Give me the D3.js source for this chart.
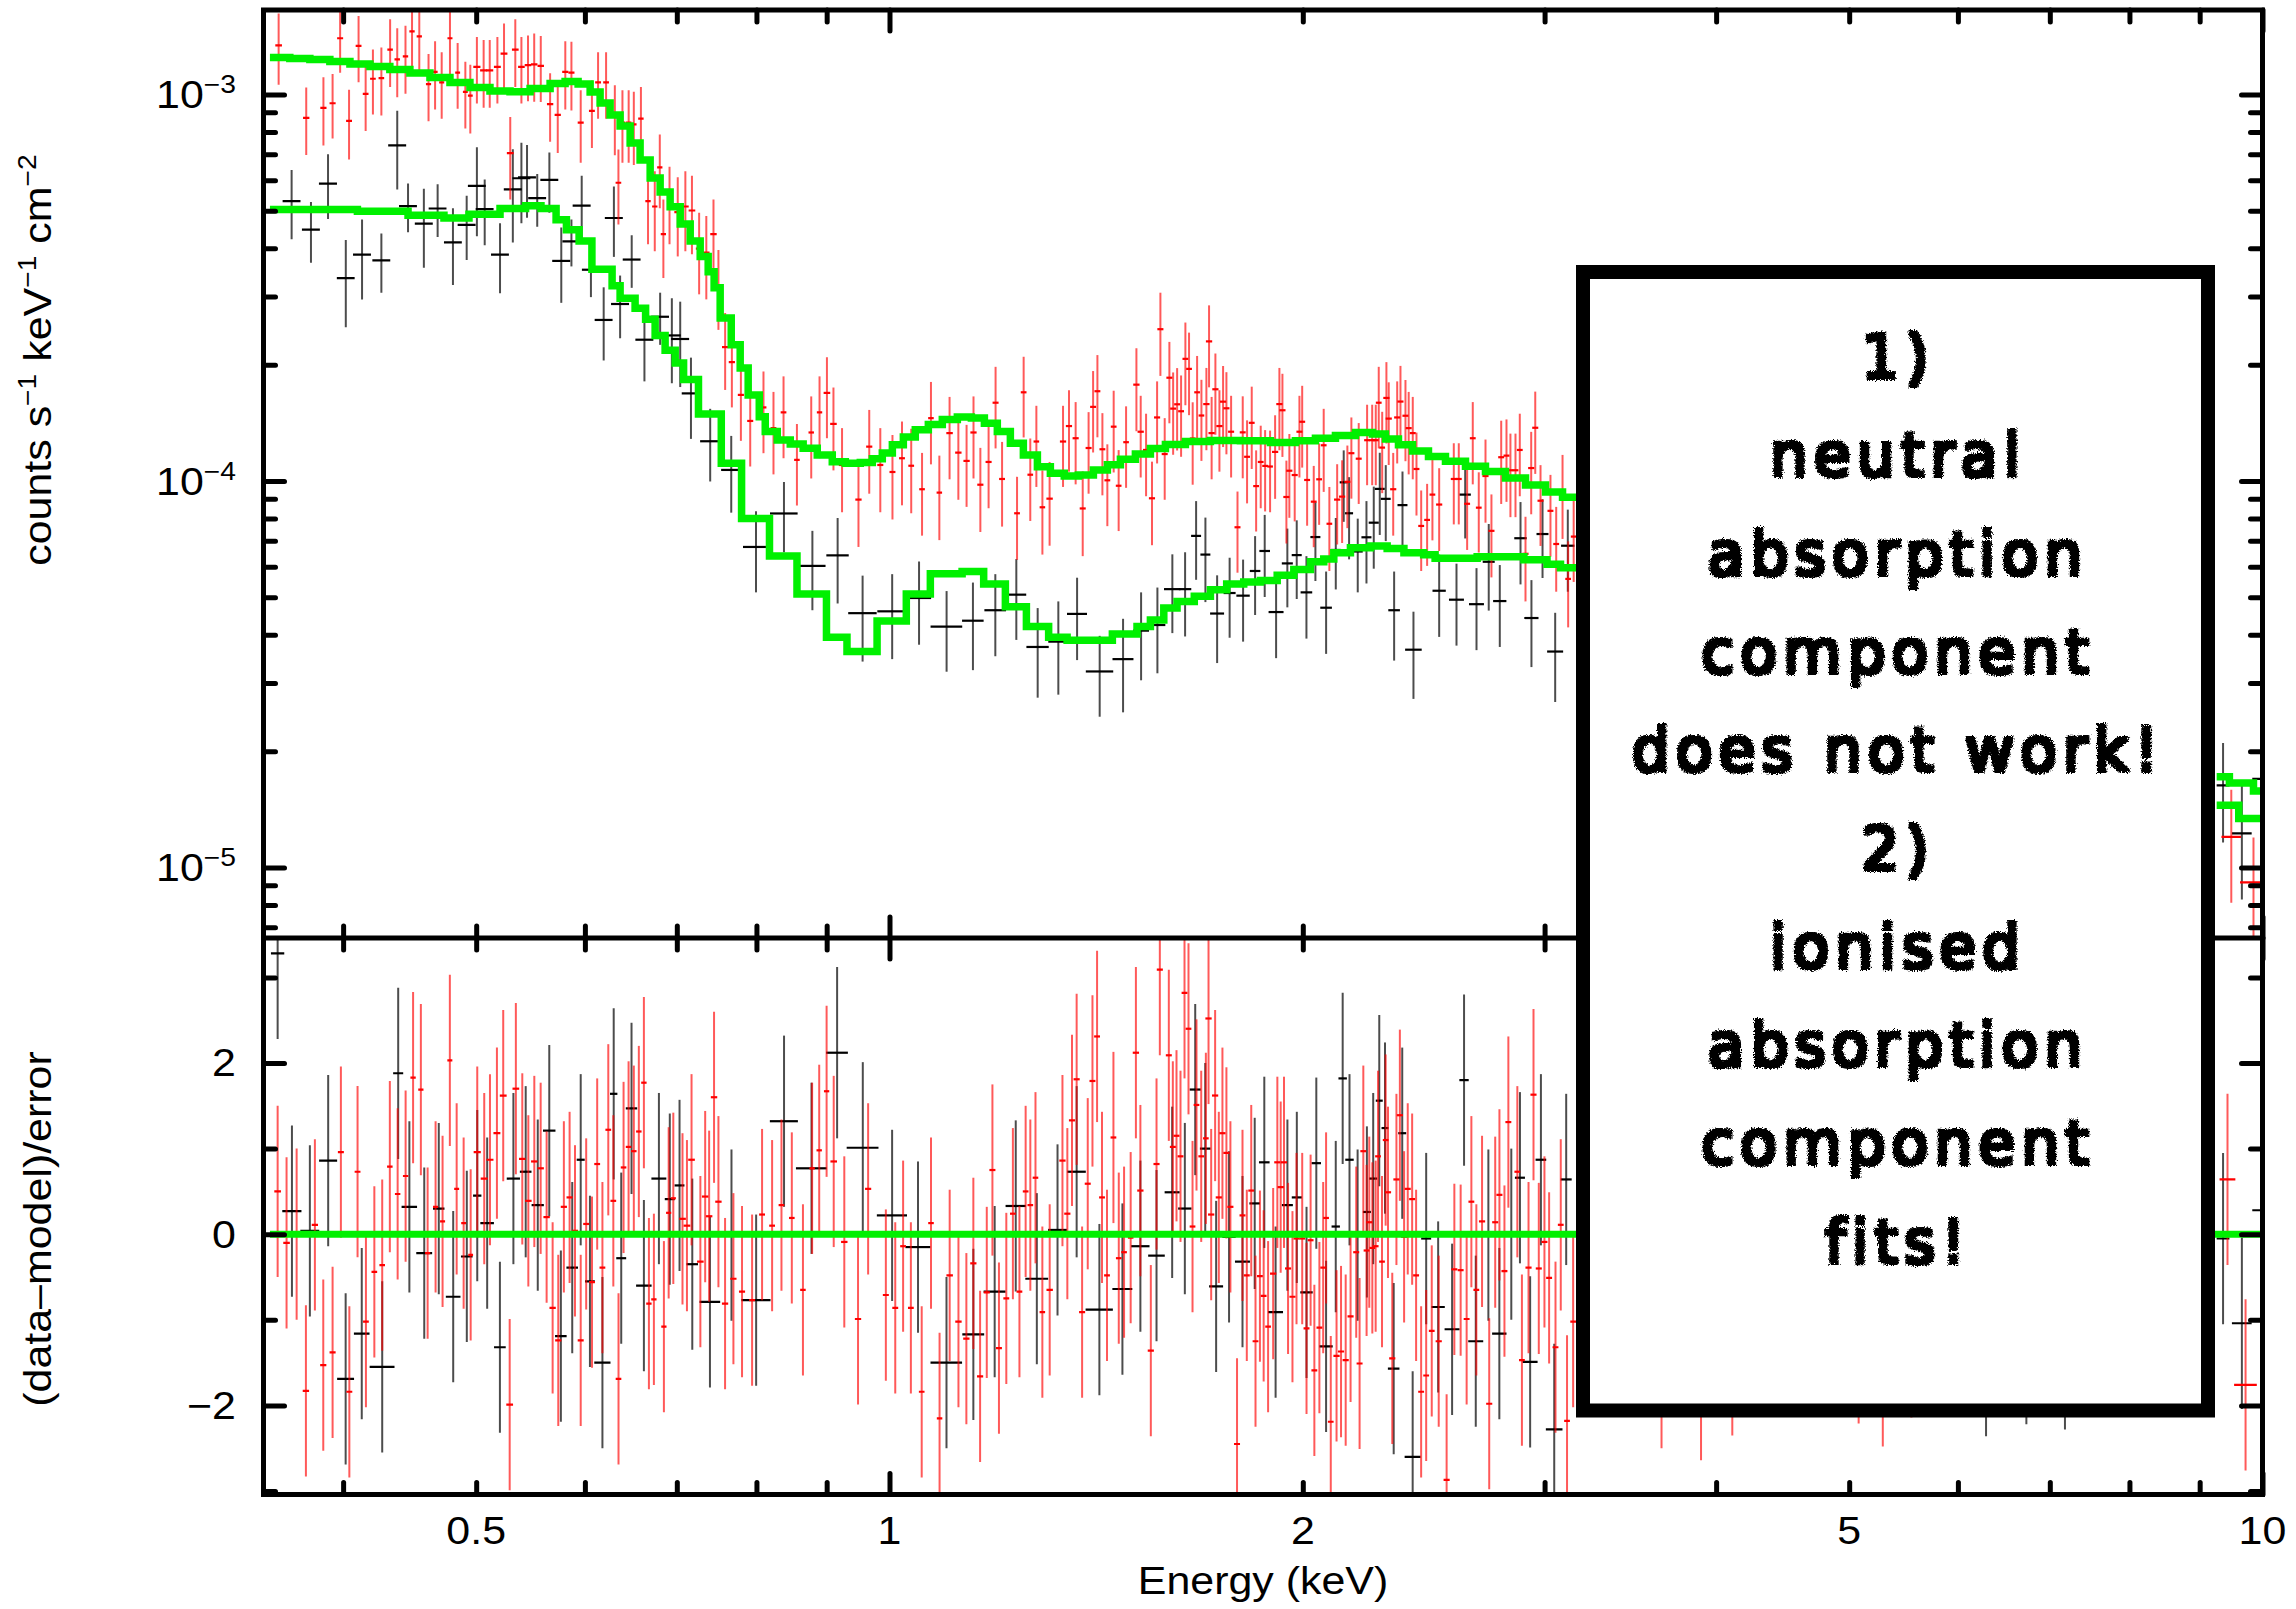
<!DOCTYPE html>
<html>
<head>
<meta charset="utf-8">
<script src="https://cdn.jsdelivr.net/npm/d3@7"></script>
<style>
  html, body { margin: 0; padding: 0; background: #fff; }
  svg { display: block; }
</style>
</head>
<body>
<svg id="chart" width="2296" height="1609"></svg>
<script>
// ---------------------------------------------------------------------------
// Spectral data. Energies in keV; fluxes in units of 1e-4 counts s^-1 keV^-1 cm^-2.
// Spectrum rows: [energy, flux, error, half bin width]
// Residual rows: [energy, (data-model)/error, half bin width]
// Model rows:    [bin start energy, model flux]  (null flux = gap)
// ---------------------------------------------------------------------------
const FLUX_UNIT = 1e-4;

const blackSpectrum = [
  [0.3669,5.30,1.08,.0055],[0.379,4.47,0.8,.0057],[0.390,5.88,1.12,.0059],[0.4018,3.35,0.85,.006],
  [0.4129,3.85,0.9,.0062],[0.4265,3.72,0.65,.0064],[0.438,7.38,1.7,.0066],[0.446,5.14,0.74,.0067],
  [0.458,4.63,1.07,.0069],[0.4687,5.07,0.79,.007],[0.4809,4.145,0.93,.0072],[0.4921,4.6,0.87,.0074],
  [0.5006,5.8,1.5,.0075],[0.5072,5.05,0.98,.0076],[0.5204,3.85,0.79,.0078],[0.5317,5.68,1.54,.008],
  [0.5394,6.07,1.43,.0081],[0.5445,6.1,1.3,.0082],[0.5539,5.39,0.84,.0083],[0.5653,6.01,1.07,.0085],
  [0.5767,3.71,0.82,.0087],[0.5866,4.17,0.58,.0088],[0.5968,5.16,1.0,.009],[0.6061,3.52,0.53,.0091],
  [0.6192,2.61,0.56,.0093],[0.6299,4.79,0.99,.0095],[0.6365,2.87,0.53,.0096],[0.649,3.74,0.58,.0097],
  [0.663,2.32,0.51,.01],[0.6807,2.66,0.41,.0102],[0.6942,2.38,0.59,.0104],[0.704,2.33,0.58,.0106],
  [0.7168,1.685,0.4,.011],[0.7403,1.267,0.27,.0124],[0.7669,1.068,0.24,.0129],[0.7994,0.675,0.16,.0172],
  [0.8378,0.824,0.17,.0194],[0.8787,0.603,0.14,.0196],[0.9167,0.642,0.16,.0172],[0.9559,0.455,0.114,.0228],
  [1.0045,0.46,0.114,.0247],[1.0508,0.498,0.121,.0215],[1.1005,0.42,0.099,.0292],[1.1502,0.435,0.111,.0208],
  [1.1942,0.463,0.111,.0217],[1.237,0.508,0.12,.0207],[1.2821,0.372,0.097,.024],[1.3273,0.384,0.104,.0222],
  [1.3697,0.453,0.109,.023],[1.4226,0.3215,0.076,.0327],[1.4795,0.346,0.094,.026],[1.5249,0.41,0.105,.0204],
  [1.5672,0.424,0.106,.021],[1.607,0.525,0.121,.0223],[1.6417,0.525,0.129,.0171],[1.6723,0.721,0.166,.014],
  [1.6986,0.645,0.159,.0142],[1.7323,0.454,0.116,.0203],[1.769,0.513,0.12,.0178],[1.8094,0.505,0.121,.0203],
  [1.8462,0.585,0.135,.0164],[1.8762,0.659,0.158,.0167],[1.9124,0.458,0.11,.024],[1.9488,0.612,0.141,.018],
  [1.9797,0.643,0.148,.0166],[2.0122,0.515,0.124,.0196],[2.0427,0.716,0.165,.0171],[2.0797,0.47,0.113,.0203],
  [2.1137,0.663,0.139,.0177],[2.142,0.992,0.208,.0144],[2.1614,0.825,0.198,.0145],[2.193,0.657,0.142,.0184],
  [2.2253,0.715,0.172,.0187],[2.2527,0.78,0.187,.019],[2.2755,0.954,0.229,.019],[2.2985,0.899,0.2,.019],
  [2.331,0.463,0.12,.0227],[2.3639,0.866,0.192,.0198],[2.4078,0.366,0.093,.0335],[2.5139,0.52,0.125,.028],
  [2.588,0.493,0.118,.0325],[2.626,0.922,0.212,.025],[2.6763,0.48,0.115,.0336],[2.7318,0.618,0.156,.0275],
  [2.7829,0.489,0.117,.031],[2.8813,0.711,0.171,.03],[2.9346,0.442,0.112,.035],[2.9897,0.729,0.168,.03],
  [3.0538,0.362,0.094,.041],[3.1191,0.68,0.163,.035],
  [9.36,0.163,0.047,.1],[9.66,0.1226,0.040,.16],[9.98,0.1695,0.045,.15]
];

const redSpectrum = [
  [0.359,13.4,2.8,.002],[0.376,8.70,1.73,.002],[0.387,9.23,1.85,.002],[0.393,9.49,1.8,.002],
  [0.398,13.98,2.6,.002],[0.404,8.54,1.75,.002],[0.4105,13.35,2.6,.002],[0.4154,10.04,2.0,.002],
  [0.4205,10.98,2.1,.002],[0.4265,11.02,2.2,.002],[0.4328,13.06,2.6,.002],[0.438,12.33,2.5,.002],
  [0.4441,12.55,2.5,.002],[0.449,14.57,2.9,.002],[0.4545,14.14,2.8,.002],[0.4616,10.63,2.1,.002],
  [0.4667,11.44,2.3,.002],[0.4719,10.75,2.1,.002],[0.4785,13.98,2.8,.002],[0.4847,11.39,2.2,.002],
  [0.491,10.16,2.0,.002],[0.4951,9.93,2.0,.002],
  [0.5006,11.78,2.3,.003],[0.5063,11.54,2.3,.003],[0.5115,11.54,2.3,.003],[0.5181,11.78,2.3,.003],
  [0.5239,12.76,2.5,.003],[0.5294,7.05,1.7,.003],[0.5339,13.06,2.6,.003],[0.5394,11.78,2.3,.003],
  [0.5454,11.91,2.3,.003],[0.5511,11.97,2.4,.003],[0.5572,11.86,2.3,.003],[0.566,9.44,1.9,.003],
  [0.5733,8.86,1.8,.003],[0.5806,11.44,2.3,.003],[0.5866,11.39,2.3,.003],[0.5958,8.46,1.8,.003],
  [0.6071,9.07,1.8,.003],[0.6134,10.75,2.1,.003],[0.6217,10.75,2.1,.003],[0.6309,8.76,1.8,.003],
  [0.6347,5.91,1.3,.003],[0.639,8.46,1.8,.003],[0.6457,8.46,1.8,.003],[0.6513,8.37,1.8,.003],
  [0.6591,8.66,1.8,.003],[0.667,5.30,1.2,.003],[0.6746,5.13,1.2,.003],[0.6803,6.48,1.4,.003],
  [0.6844,4.35,1.0,.003],[0.6915,5.30,1.2,.003],
  [0.7011,4.96,1.15,.004],[0.7101,5.13,1.2,.004],[0.718,5.01,1.15,.004],[0.7267,3.99,0.95,.004],
  [0.7355,3.90,0.95,.004],[0.7444,4.35,1.0,.004],[0.7506,3.21,0.75,.004],[0.7591,2.22,0.5,.004],
  [0.7677,2.03,0.48,.004],[0.7794,1.67,0.4,.004],[0.7917,1.43,0.34,.004],[0.8095,1.55,0.37,.004],
  [0.8232,1.37,0.33,.004],[0.8372,1.505,0.36,.004],[0.8562,1.134,0.27,.004],[0.877,1.335,0.32,.004],
  [0.8893,1.505,0.36,.004],
  [0.9004,1.69,0.4,.005],[0.9103,1.405,0.34,.005],[0.9235,1.10,0.27,.005],[0.9493,0.895,0.22,.005],
  [0.9666,1.227,0.3,.005],[0.9847,1.10,0.27,.005],[1.005,1.055,0.26,.005],[1.0212,1.145,0.28,.005],
  [1.0371,1.095,0.27,.005],[1.0561,0.952,0.23,.005],[1.072,1.454,0.35,.005],[1.0872,0.933,0.23,.005],
  [1.106,1.33,0.32,.006],[1.1224,1.184,0.29,.006],[1.138,1.127,0.27,.006],[1.1513,1.335,0.32,.006],
  [1.1646,0.978,0.24,.006],[1.1808,1.12,0.27,.006],[1.1947,1.594,0.38,.006],[1.2078,1.012,0.25,.006],
  [1.2385,0.825,0.2,.006],[1.2523,1.696,0.4,.006],[1.2663,1.038,0.25,.006],[1.2793,1.265,0.3,.006],
  [1.2923,0.855,0.21,.006],
  [1.308,0.9,0.22,.007],[1.3378,1.265,0.3,.007],[1.3512,1.387,0.33,.007],[1.3664,1.29,0.31,.007],
  [1.3827,0.849,0.21,.007],[1.3964,1.217,0.29,.007],[1.407,1.555,0.37,.007],[1.4172,1.707,0.41,.007],
  [1.4291,1.208,0.29,.007],[1.441,1.004,0.24,.007],[1.4564,1.382,0.33,.007],[1.4686,0.972,0.23,.007],
  [1.487,1.26,0.3,.007],
  [1.513,1.775,0.43,.008],[1.5239,1.341,0.32,.008],[1.5377,1.203,0.29,.008],[1.553,0.902,0.22,.008],
  [1.5664,1.46,0.35,.008],[1.5751,2.47,0.6,.008],[1.5865,1.174,0.28,.008],[1.599,1.85,0.44,.008],
  [1.6091,1.539,0.37,.008],[1.6199,1.579,0.38,.008],[1.6307,1.515,0.36,.008],[1.6425,2.07,0.5,.008],
  [1.6526,1.95,0.47,.008],[1.6627,1.288,0.31,.008],[1.6751,1.696,0.41,.008],[1.6873,1.477,0.35,.008],
  [1.7014,1.581,0.38,.009],[1.709,2.297,0.55,.009],[1.7164,1.33,0.32,.009],[1.7273,1.727,0.41,.009],
  [1.739,1.387,0.33,.009],[1.7497,1.604,0.38,.009],[1.7595,1.542,0.37,.009],[1.7734,1.341,0.32,.009],
  [1.7925,0.759,0.18,.009],[1.8083,1.336,0.32,.009],[1.8215,1.155,0.28,.009],[1.8358,1.414,0.34,.009],
  [1.8494,0.97,0.23,.009],[1.8637,1.12,0.27,.009],[1.8775,1.094,0.26,.009],[1.8932,1.09,0.26,.009],
  [1.9092,1.189,0.29,.01],[1.923,1.581,0.38,.01],[1.9328,1.524,0.37,.01],[1.9457,0.909,0.22,.01],
  [1.9554,1.063,0.26,.01],[1.973,1.036,0.25,.01],[1.9887,1.341,0.32,.01],[1.9979,1.423,0.34,.01],
  [2.0145,1.006,0.24,.01],[2.037,0.884,0.21,.01],[2.0555,1.01,0.24,.01],[2.0713,1.237,0.3,.01],
  [2.0911,0.775,0.19,.01],
  [2.1186,0.895,0.21,.011],[2.1363,0.911,0.22,.011],[2.1552,0.995,0.24,.011],[2.1697,1.18,0.28,.011],
  [2.1966,1.142,0.27,.011],[2.2277,1.275,0.3,.011],[2.2468,1.275,0.3,.011],[2.2603,1.275,0.3,.011],
  [2.2716,1.594,0.38,.011],[2.2848,1.22,0.29,.011],
  [2.301,1.64,0.39,.012],[2.31,1.45,0.35,.012],[2.3274,0.952,0.23,.012],[2.343,1.46,0.35,.012],
  [2.3559,1.605,0.38,.012],[2.3757,1.475,0.35,.012],[2.3886,1.37,0.33,.012],[2.405,1.33,0.32,.012],
  [2.42,1.074,0.26,.012],[2.4392,0.765,0.18,.012],[2.4636,0.793,0.19,.012],[2.4856,0.922,0.22,.012],
  [2.5139,0.869,0.21,.013],[2.5763,1.012,0.24,.013],[2.5979,1.012,0.24,.013],[2.6346,0.873,0.21,.013],
  [2.6596,1.29,0.31,.013],[2.6865,0.853,0.2,.013],
  [2.717,1.03,0.25,.014],[2.7442,0.743,0.18,.014],[2.7895,1.152,0.28,.014],[2.8143,1.163,0.28,.014],
  [2.833,1.066,0.26,.014],[2.8571,1.066,0.26,.014],[2.8778,1.203,0.29,.014],
  [2.9055,0.648,0.16,.015],[2.9334,1.08,0.26,.015],[2.9534,1.373,0.33,.015],[2.9796,0.889,0.21,.015],
  [3.0297,0.837,0.2,.015],[3.059,0.687,0.17,.015],[3.0917,0.938,0.23,.015],[3.121,0.558,0.14,.015],
  [3.15,0.718,0.17,.015],
  [9.49,0.12,0.039,.155],[9.85,0.0915,0.028,.22]
];

const blackModel = [
  [0.3538,5.04],[0.4097,4.99],[0.446,4.87],[0.4737,4.79],[0.494,4.9],[0.5204,5.07],[0.5432,5.15],
  [0.5574,5.07],[0.5717,4.74],[0.5817,4.47],[0.5942,4.18],[0.6071,3.53],[0.628,3.2],[0.6365,2.97],
  [0.6527,2.8],[0.6643,2.62],[0.675,2.38],[0.6864,2.18],[0.6981,2.02],[0.708,1.83],[0.7259,1.49],
  [0.7542,1.112],[0.7803,0.8],[0.8177,0.64],[0.8563,0.51],[0.8997,0.394],[0.9312,0.362],[0.9794,0.434],
  [1.0286,0.51],[1.0709,0.575],[1.1295,0.583],[1.1711,0.541],[1.2145,0.473],[1.2581,0.42],[1.3059,0.394],
  [1.347,0.387],[1.4532,0.402],[1.5145,0.42],[1.5489,0.437],[1.5841,0.469],[1.6197,0.488],[1.6672,0.503],
  [1.7129,0.523],[1.7603,0.541],[1.8113,0.548],[1.8628,0.553],[1.9159,0.57],[1.9701,0.59],[2.0258,0.618],
  [2.0716,0.628],[2.1067,0.652],[2.1663,0.672],[2.2402,0.679],[2.3039,0.669],[2.3696,0.652],[2.4493,0.644],
  [2.4968,0.631],[2.6793,0.637],[2.8978,0.625],[3.0123,0.609],[3.0812,0.596],[3.213,0.596],[3.213,null],
  [9.26,0.1448],[9.61,0.1339],[10.0,0.1339]
];

const redModel = [
  [0.3538,12.47],[0.3658,12.39],[0.3783,12.32],[0.3912,12.17],[0.4046,11.99],[0.4184,11.82],[0.4326,11.61],
  [0.4474,11.37],[0.4627,11.07],[0.4785,10.74],[0.4948,10.42],[0.5117,10.21],[0.5292,10.16],[0.5473,10.36],
  [0.566,10.68],[0.5804,10.81],[0.5932,10.65],[0.6053,10.15],[0.6155,9.51],[0.6259,8.85],[0.6365,8.29],
  [0.6473,7.49],[0.6582,6.77],[0.6694,6.08],[0.6807,5.59],[0.6922,5.12],[0.704,4.62],[0.7159,4.18],
  [0.728,3.81],[0.7378,3.48],[0.7452,3.16],[0.7528,2.64],[0.7669,2.25],[0.7785,1.96],[0.789,1.67],
  [0.8038,1.467],[0.8119,1.342],[0.8284,1.277],[0.8467,1.247],[0.8652,1.216],[0.8859,1.168],[0.9085,1.122],
  [0.9286,1.112],[0.9522,1.117],[0.9716,1.141],[0.988,1.182],[1.0048,1.24],[1.0235,1.3],[1.0442,1.356],
  [1.0673,1.4],[1.0926,1.443],[1.1205,1.465],[1.1472,1.456],[1.1725,1.411],[1.1982,1.342],[1.2247,1.252],
  [1.2517,1.168],[1.2815,1.089],[1.3097,1.047],[1.3406,1.03],[1.3727,1.037],[1.4077,1.068],[1.4411,1.101],
  [1.4729,1.138],[1.5104,1.175],[1.5489,1.214],[1.5884,1.243],[1.6425,1.266],[1.7129,1.273],[1.8013,1.27],
  [1.8943,1.258],[1.9754,1.27],[2.0428,1.289],[2.1125,1.312],[2.1846,1.334],[2.2477,1.323],[2.2975,1.285],
  [2.348,1.24],[2.4038,1.196],[2.4692,1.157],[2.5406,1.124],[2.6273,1.091],[2.7169,1.058],[2.8097,1.018],
  [2.9056,0.977],[3.0047,0.937],[3.0917,0.907],[3.213,0.907],[3.213,null],
  [9.26,0.1717],[9.46,0.1655],[9.85,0.1578],[10.0,0.1578]
];

const blackResiduals = [
  [0.3584,3.28,.004],[0.3671,0.27,.0059],[0.3783,0.04,.006],[0.3901,0.86,.0059],[0.4017,-1.69,.0057],
  [0.4127,-1.16,.0054],[0.4271,-1.55,.0089],[0.4387,1.88,.0037],[0.447,0.32,.0058],[0.4583,-0.22,.0061],
  [0.4696,0.30,.0045],[0.4811,-0.73,.0059],[0.4922,-0.26,.0048],[0.5009,0.45,.0035],[0.5093,0.13,.0058],
  [0.5203,-1.32,.0051],[0.5322,0.65,.0059],[0.5433,0.73,.0053],[0.5544,0.34,.0057],[0.5652,1.21,.0059],
  [0.5763,-1.19,.0056],[0.5874,-0.39,.0057],[0.5958,0.87,.004],[0.6051,-0.55,.005],[0.6179,-1.50,.0084],
  [0.6297,1.64,.0039],[0.6377,-0.28,.0053],[0.6488,1.47,.0062],[0.6624,-0.60,.0086],[0.6793,0.65,.0085],
  [0.6918,0.41,.0058],[0.7032,0.57,.0058],[0.7184,-0.35,.0069],
  [0.74,-0.79,.0128],[0.7672,-0.01,.0139],[0.7996,-0.77,.0195],[0.8379,1.32,.0197],[0.8774,0.77,.0226],
  [0.9159,2.12,.0167],[0.9562,1.01,.0255],[1.0044,0.22,.0254],[1.049,-0.15,.0219],[1.1003,-1.50,.0291],
  [1.151,-1.17,.0211],[1.1929,-0.67,.0219],[1.2358,0.33,.0209],[1.2803,-0.52,.0245],[1.3255,0.05,.0209],
  [1.3687,0.73,.0212],[1.4219,-0.88,.0325],[1.4779,-0.64,.0247],[1.5231,-0.14,.0235],
  [1.5649,-0.25,.0218],[1.6065,0.49,.0202],[1.641,0.30,.0183],[1.6698,1.69,.0154],[1.6981,1.00,.0151],
  [1.7294,-0.61,.0203],[1.7673,-0.03,.0198],[1.8076,-0.32,.0227],[1.845,0.36,.0164],[1.8749,0.84,.0167],
  [1.9108,-0.91,.0239],[1.949,0.34,.018],[1.98,0.43,.0167],[2.0125,-0.68,.0209],[2.0458,0.83,.0161],
  [2.0796,-1.31,.0232],[2.1136,0.09,.0148],[2.1383,1.82,.0151],[2.1629,0.87,.0153],[2.1925,-0.01,.0147],
  [2.2269,0.26,.0149],[2.2506,0.65,.0151],[2.2736,1.56,.0133],[2.2956,1.24,.0134],[2.3293,-1.57,.0226],
  [2.3629,1.18,.0158],[2.4046,-2.60,.0322],[2.4597,-0.05,.0206],[2.5096,-0.85,.0281],[2.569,-1.11,.0322],
  [2.621,1.80,.0206],[2.673,-1.25,.0336],[2.7301,-0.01,.023],[2.7808,-1.16,.0335],[2.8371,0.0,.0238],
  [2.8786,0.66,.0242],[2.9282,-1.49,.0368],[2.9816,0.87,.0266],[3.0489,-2.28,.0425],[3.1107,0.64,.0288],
  [6.29,-1.36,.15],[6.73,-1.22,.15],[7.18,-1.28,.15],
  [9.36,-0.05,.1],[9.66,-1.04,.16],[9.98,0.28,.15]
];

const redResiduals = [
  [0.3584,0.50,.002],[0.3638,-0.10,.002],[0.370,0.0,.002],[0.3758,-1.83,.002],[0.3815,0.11,.002],
  [0.3869,-1.53,.002],[0.393,-1.38,.002],[0.3985,0.96,.002],[0.4042,-1.84,.002],[0.4098,0.73,.002],
  [0.4156,-1.02,.002],[0.4215,-0.44,.002],[0.4271,-0.36,.002],[0.4326,0.79,.002],[0.4383,0.47,.002],
  [0.4442,0.68,.002],[0.4498,1.83,.002],[0.4557,1.69,.002],[0.4609,-0.22,.002],[0.4671,0.32,.002],
  [0.4726,0.15,.002],[0.4784,2.03,.002],[0.4839,0.53,.002],[0.4896,0.13,.002],[0.4954,-0.24,.002],
  [0.5009,0.96,.003],[0.5068,0.65,.003],[0.5117,0.87,.003],[0.5177,1.18,.003],[0.5232,1.62,.003],
  [0.5289,-1.99,.003],[0.5344,1.70,.003],[0.5402,0.88,.003],[0.5457,0.39,.003],[0.5512,0.85,.003],
  [0.5571,0.77,.003],[0.5627,0.20,.003],[0.5684,-0.86,.003],[0.5738,-1.24,.003],[0.5792,0.32,.003],
  [0.5848,0.43,.003],[0.5901,0.04,.003],[0.5958,-1.24,.003],[0.6013,0.12,.003],[0.6072,-0.56,.003],
  [0.6125,0.82,.003],[0.6179,-0.39,.003],[0.624,1.22,.003],[0.6293,0.39,.003],[0.6348,-1.69,.003],
  [0.6402,0.78,.003],[0.6456,1.02,.003],[0.6513,0.97,.003],[0.6568,1.20,.003],[0.6624,1.77,.003],
  [0.668,-0.81,.003],[0.6736,-0.76,.003],[0.685,-1.08,.003],[0.6905,0.25,.003],[0.6959,0.42,.003],
  [0.7067,0.18,.004],[0.712,0.10,.004],[0.7175,0.87,.004],[0.7282,-0.32,.004],[0.7341,0.44,.004],
  [0.739,0.21,.004],[0.7451,1.60,.004],[0.7506,0.38,.004],[0.759,-0.81,.004],[0.7697,-0.52,.004],
  [0.7809,-0.67,.004],[0.7942,-0.77,.004],[0.8076,0.23,.004],[0.8213,0.10,.004],[0.8343,0.34,.004],
  [0.8489,0.19,.004],[0.8649,-0.65,.004],[0.8783,0.77,.004],[0.8888,0.98,.004],[0.8999,1.67,.004],
  [0.9107,0.85,.005],[0.927,-0.09,.005],[0.9486,-0.99,.005],[0.9648,0.53,.005],[0.9939,-0.71,.005],
  [1.0097,-0.86,.005],[1.0231,-0.14,.005],[1.0365,-0.86,.005],[1.0555,-1.84,.005],[1.0721,0.13,.005],
  [1.0876,-2.15,.005],[1.1062,-0.48,.006],[1.1226,-1.02,.006],[1.1376,-1.22,.006],[1.151,-0.34,.006],
  [1.1641,-1.66,.006],[1.1772,-0.68,.006],[1.1884,0.75,.006],[1.2015,-1.33,.006],[1.2164,-0.75,.006],
  [1.2299,0.24,.006],[1.2435,-0.67,.006],[1.2565,0.50,.006],[1.2664,0.34,.006],[1.2774,0.66,.006],
  [1.2922,-0.91,.006],[1.3082,-0.65,.007],[1.3365,0.86,.007],[1.3475,0.24,.007],[1.3581,1.33,.007],
  [1.3687,1.81,.007],[1.3813,-0.91,.007],[1.3944,0.59,.007],[1.4055,1.79,.007],[1.4164,2.31,.007],
  [1.4282,0.43,.007],[1.4402,-0.48,.007],[1.4558,1.13,.007],[1.4689,-0.28,.007],[1.482,-0.21,.007],
  [1.4985,-0.04,.007],[1.5117,2.12,.008],[1.5231,0.51,.008],[1.55,-1.36,.008],[1.5649,0.82,.008],
  [1.5736,3.09,.008],[1.5975,2.09,.008],[1.6083,1.02,.008],[1.6182,1.15,.008],[1.6291,0.91,.008],
  [1.6401,2.82,.008],[1.6511,2.40,.008],[1.6623,0.09,.008],[1.6734,1.51,.008],[1.6867,0.91,.008],
  [1.6999,1.12,.008],[1.7075,2.52,.009],[1.7151,0.23,.009],[1.7265,1.62,.009],[1.7372,0.43,.009],
  [1.7478,1.18,.009],[1.7595,0.95,.009],[1.7713,0.32,.009],[1.7911,-2.45,.009],[1.8076,0.22,.009],
  [1.8207,-0.48,.009],[1.8343,0.51,.009],[1.8475,-1.25,.009],[1.8612,-0.49,.009],[1.8729,-0.72,.009],
  [1.8869,-1.08,.009],[1.903,-0.46,.01],[1.9164,0.84,.01],[1.9271,0.55,.01],[1.9379,0.84,.01],
  [1.9511,-0.40,.01],[1.9656,-0.73,.01],[1.979,-0.05,.01],[1.998,-0.05,.01],[2.0125,-1.10,.01],
  [2.0263,-0.07,.01],[2.0391,-1.59,.01],[2.0564,-1.09,.01],[2.0695,-0.39,.01],[2.0796,0.19,.01],
  [2.096,-2.19,.01],[2.1164,-1.42,.011],[2.1324,-1.37,.011],[2.1491,-1.47,.011],[2.1668,-0.96,.011],
  [2.1874,-0.21,.011],[2.1998,-1.51,.011],[2.2136,0.97,.011],[2.2258,-0.19,.011],[2.2358,0.14,.011],
  [2.2473,-0.16,.011],[2.2599,-0.14,.011],[2.2689,0.91,.011],[2.2841,-0.32,.011],[2.2981,1.10,.011],
  [2.3071,0.49,.012],[2.3237,-1.45,.012],[2.34,0.64,.012],[2.3535,1.39,.012],[2.3703,-0.03,.012],
  [2.3848,0.53,.012],[2.4025,0.41,.012],[2.4185,-0.48,.012],[2.439,-1.84,.012],[2.4597,-1.65,.012],
  [2.4828,-1.13,.012],[2.512,-1.25,.013],[2.5455,-2.87,.013],[2.5787,-0.41,.013],[2.6061,-0.42,.013],
  [2.6324,-0.99,.013],[2.6534,0.38,.013],[2.6756,-0.65,.013],[2.7013,0.15,.014],[2.734,-1.98,.014],
  [2.7616,0.14,.014],[2.7812,0.46,.014],[2.8047,-0.43,.014],[2.8232,1.31,.014],[2.866,0.73,.014],
  [2.8881,-1.47,.014],[2.9203,-0.39,.015],[2.9448,1.63,.015],[2.971,-0.40,.015],[2.9993,-0.09,.015],
  [3.0229,-0.51,.015],[3.0554,-1.32,.015],[3.0825,0.11,.015],[3.1151,-2.18,.015],[3.1472,-1.02,.015],
  [3.65,-1.50,.025],[3.90,-1.64,.027],[4.11,-1.35,.028],[5.08,-1.21,.035],[5.29,-1.48,.036],[5.55,-1.14,.038],
  [9.43,0.64,.125],[9.72,-1.76,.185]
];

// Axis ticks and labels
const energyMajorTicks = [1, 10];
const energyMinorTicks = [0.4, 0.5, 0.6, 0.7, 0.8, 0.9, 2, 3, 4, 5, 6, 7, 8, 9];
const energyTickLabels = [
  { value: 0.5, text: "0.5" }, { value: 1, text: "1" }, { value: 2, text: "2" },
  { value: 5, text: "5" }, { value: 10, text: "10" }
];
const fluxMajorTicks = [1e-3, 1e-4, 1e-5];
const fluxMinorTicks = [7e-6, 8e-6, 9e-6,
  2e-5, 3e-5, 4e-5, 5e-5, 6e-5, 7e-5, 8e-5, 9e-5,
  2e-4, 3e-4, 4e-4, 5e-4, 6e-4, 7e-4, 8e-4, 9e-4];
const fluxTickLabels = [
  { value: 1e-3, base: "10", exp: "\u22123" },
  { value: 1e-4, base: "10", exp: "\u22124" },
  { value: 1e-5, base: "10", exp: "\u22125" }
];
const residMajorTicks = [-2, 0, 2];
const residMinorTicks = [-3, -1, 1, 3];
const residTickLabels = [
  { value: 2, text: "2" }, { value: 0, text: "0" }, { value: -2, text: "\u22122" }
];

const noteLines = ["1)", "neutral", "absorption", "component", "does not work!",
                   "2)", "ionised", "absorption", "component", "fits!"];

// ---------------------------------------------------------------------------
// Layout
// ---------------------------------------------------------------------------
const plotLeft = 263.5, plotRight = 2262.5;
const topY = 10, midY = 938, bottomY = 1494.5;
const majorLen = 21, minorLen = 12;
const FONT = "'Liberation Sans', Arial, Helvetica, sans-serif";
const FONT_SIZE = 38;
const TEXT_STRETCH = 1.13;
const GREEN = "#00f000";

const x = d3.scaleLog().domain([0.35, 10]).range([plotLeft, plotRight]);
const yFlux = d3.scaleLog().domain([1.654e-3, 6.57e-6]).range([topY, midY]);
const yRes = d3.scaleLinear().domain([-3.04, 3.46]).range([bottomY, midY]);

const svg = d3.select("#chart");
svg.append("rect").attr("width", 2296).attr("height", 1609).attr("fill", "#fff");

const defs = svg.append("defs");
defs.append("clipPath").attr("id", "clipTop").append("rect")
  .attr("x", plotLeft).attr("y", topY).attr("width", plotRight - plotLeft).attr("height", midY - topY);
defs.append("clipPath").attr("id", "clipBottom").append("rect")
  .attr("x", plotLeft).attr("y", midY).attr("width", plotRight - plotLeft).attr("height", bottomY - midY);

// rough, hand-drawn look for the annotation lettering
const chalk = defs.append("filter").attr("id", "chalk")
  .attr("x", "-5%").attr("y", "-10%").attr("width", "110%").attr("height", "120%");
chalk.append("feMorphology").attr("in", "SourceGraphic").attr("operator", "dilate")
  .attr("radius", 1.6).attr("result", "thick");
chalk.append("feTurbulence").attr("type", "fractalNoise").attr("baseFrequency", 0.7)
  .attr("numOctaves", 2).attr("seed", 7).attr("result", "noise");
chalk.append("feDisplacementMap").attr("in", "thick").attr("in2", "noise")
  .attr("scale", 5.5).attr("xChannelSelector", "R").attr("yChannelSelector", "G");

// ---------------------------------------------------------------------------
// Data with error bars
// ---------------------------------------------------------------------------
function drawErrorBars(layer, rows, valueOf, lowOf, highOf, yScale, color, vOpacity) {
  const g = layer.append("g");
  g.selectAll("line.v").data(rows).join("line").attr("class", "v")
    .attr("x1", d => x(d[0])).attr("x2", d => x(d[0]))
    .attr("y1", d => yScale(highOf(d))).attr("y2", d => yScale(lowOf(d)))
    .attr("stroke", color).attr("stroke-width", 2).attr("stroke-opacity", vOpacity);
  g.selectAll("line.h").data(rows).join("line").attr("class", "h")
    .attr("x1", d => x(d[0] - d[d.length - 1])).attr("x2", d => x(d[0] + d[d.length - 1]))
    .attr("y1", d => yScale(valueOf(d))).attr("y2", d => yScale(valueOf(d)))
    .attr("stroke", color).attr("stroke-width", 2.2);
}

const topLayer = svg.append("g").attr("clip-path", "url(#clipTop)");
const fluxVal = d => d[1] * FLUX_UNIT;
const fluxLo = d => Math.max(d[1] - d[2], 1e-4) * FLUX_UNIT;
const fluxHi = d => (d[1] + d[2]) * FLUX_UNIT;
drawErrorBars(topLayer, blackSpectrum, fluxVal, fluxLo, fluxHi, yFlux, "#000", 0.7);
drawErrorBars(topLayer, redSpectrum, fluxVal, fluxLo, fluxHi, yFlux, "#ff0000", 0.65);

const modelLine = d3.line()
  .defined(d => d[1] != null)
  .x(d => x(d[0]))
  .y(d => yFlux(d[1] * FLUX_UNIT))
  .curve(d3.curveStepAfter);
[blackModel, redModel].forEach(m => {
  topLayer.append("path").attr("d", modelLine(m)).attr("fill", "none")
    .attr("stroke", GREEN).attr("stroke-width", 7.5).attr("stroke-linejoin", "miter");
});

const bottomLayer = svg.append("g").attr("clip-path", "url(#clipBottom)");
const resVal = d => d[1];
const resLo = d => d[1] - 1;
const resHi = d => d[1] + 1;
drawErrorBars(bottomLayer, blackResiduals, resVal, resLo, resHi, yRes, "#000", 0.7);
drawErrorBars(bottomLayer, redResiduals, resVal, resLo, resHi, yRes, "#ff0000", 0.65);
bottomLayer.append("line")
  .attr("x1", x(0.3538)).attr("x2", x(10)).attr("y1", yRes(0)).attr("y2", yRes(0))
  .attr("stroke", GREEN).attr("stroke-width", 7);

// ---------------------------------------------------------------------------
// Frames and inward ticks
// ---------------------------------------------------------------------------
const axes = svg.append("g");
function tickAxis(axisFn, scale, values, len, transform) {
  const a = axisFn(scale).tickValues(values).tickSizeInner(-len).tickSizeOuter(0).tickFormat(() => "");
  const g = axes.append("g").attr("transform", transform).call(a);
  g.select(".domain").remove();
  g.selectAll(".tick line").attr("stroke", "#000").attr("stroke-width", 5).attr("stroke-linecap", "round");
  g.selectAll(".tick text").remove();
}
[[d3.axisTop, topY], [d3.axisBottom, midY], [d3.axisTop, midY], [d3.axisBottom, bottomY]].forEach(([fn, yy]) => {
  tickAxis(fn, x, energyMajorTicks, majorLen, `translate(0,${yy})`);
  tickAxis(fn, x, energyMinorTicks, minorLen, `translate(0,${yy})`);
});
[[d3.axisLeft, plotLeft], [d3.axisRight, plotRight]].forEach(([fn, xx]) => {
  tickAxis(fn, yFlux, fluxMajorTicks, majorLen, `translate(${xx},0)`);
  tickAxis(fn, yFlux, fluxMinorTicks, minorLen, `translate(${xx},0)`);
  tickAxis(fn, yRes, residMajorTicks, majorLen, `translate(${xx},0)`);
  tickAxis(fn, yRes, residMinorTicks, minorLen, `translate(${xx},0)`);
});
axes.append("rect").attr("x", plotLeft).attr("y", topY)
  .attr("width", plotRight - plotLeft).attr("height", bottomY - topY)
  .attr("fill", "none").attr("stroke", "#000").attr("stroke-width", 5);
axes.append("line").attr("x1", plotLeft).attr("x2", plotRight).attr("y1", midY).attr("y2", midY)
  .attr("stroke", "#000").attr("stroke-width", 5);

// ---------------------------------------------------------------------------
// Labels
// ---------------------------------------------------------------------------
const labels = svg.append("g").attr("font-family", FONT).attr("font-size", FONT_SIZE).attr("fill", "#000");

energyTickLabels.forEach(t => {
  labels.append("text").attr("text-anchor", "middle")
    .attr("transform", `translate(${x(t.value)},1544) scale(${TEXT_STRETCH},1)`).text(t.text);
});
residTickLabels.forEach(t => {
  labels.append("text").attr("text-anchor", "end")
    .attr("transform", `translate(236,${yRes(t.value) + 13.5}) scale(${TEXT_STRETCH},1)`).text(t.text);
});
fluxTickLabels.forEach(t => {
  const txt = labels.append("text").attr("text-anchor", "end")
    .attr("transform", `translate(236,${yFlux(t.value) + 14}) scale(${TEXT_STRETCH},1)`);
  txt.append("tspan").text(t.base);
  txt.append("tspan").attr("font-size", 25).attr("dy", -15).text(t.exp);
});

labels.append("text").attr("text-anchor", "middle")
  .attr("transform", `translate(${(plotLeft + plotRight) / 2},1594) scale(${TEXT_STRETCH},1)`)
  .text("Energy (keV)");

const yTitle = labels.append("text").attr("text-anchor", "middle")
  .attr("transform", `translate(51,360) rotate(-90) scale(${TEXT_STRETCH},1)`);
[["counts s", 0], ["\u22121", 1], [" keV", 0], ["\u22121", 1], [" cm", 0], ["\u22122", 1]].forEach(([s, sup], i, arr) => {
  const span = yTitle.append("tspan").text(s);
  if (sup) span.attr("font-size", 25).attr("dy", -15);
  else if (i > 0 && arr[i - 1][1]) span.attr("dy", 15);
});

labels.append("text").attr("text-anchor", "middle")
  .attr("transform", `translate(51,1229) rotate(-90) scale(${TEXT_STRETCH},1)`)
  .text("(data\u2013model)/error");

// ---------------------------------------------------------------------------
// Annotation box
// ---------------------------------------------------------------------------
const note = svg.append("g");
note.append("rect").attr("x", 1583).attr("y", 272).attr("width", 625).attr("height", 1138.5)
  .attr("fill", "#fff").attr("stroke", "#000").attr("stroke-width", 14);
const noteText = note.append("g").attr("filter", "url(#chalk)")
  .attr("font-family", "'DejaVu Sans', sans-serif").attr("font-size", 60)
  .attr("letter-spacing", 6).attr("fill", "#000").attr("text-anchor", "middle");
noteLines.forEach((line, i) => {
  noteText.append("text").attr("x", 1898).attr("y", 378 + i * 98.3).text(line);
});
</script>
</body>
</html>
